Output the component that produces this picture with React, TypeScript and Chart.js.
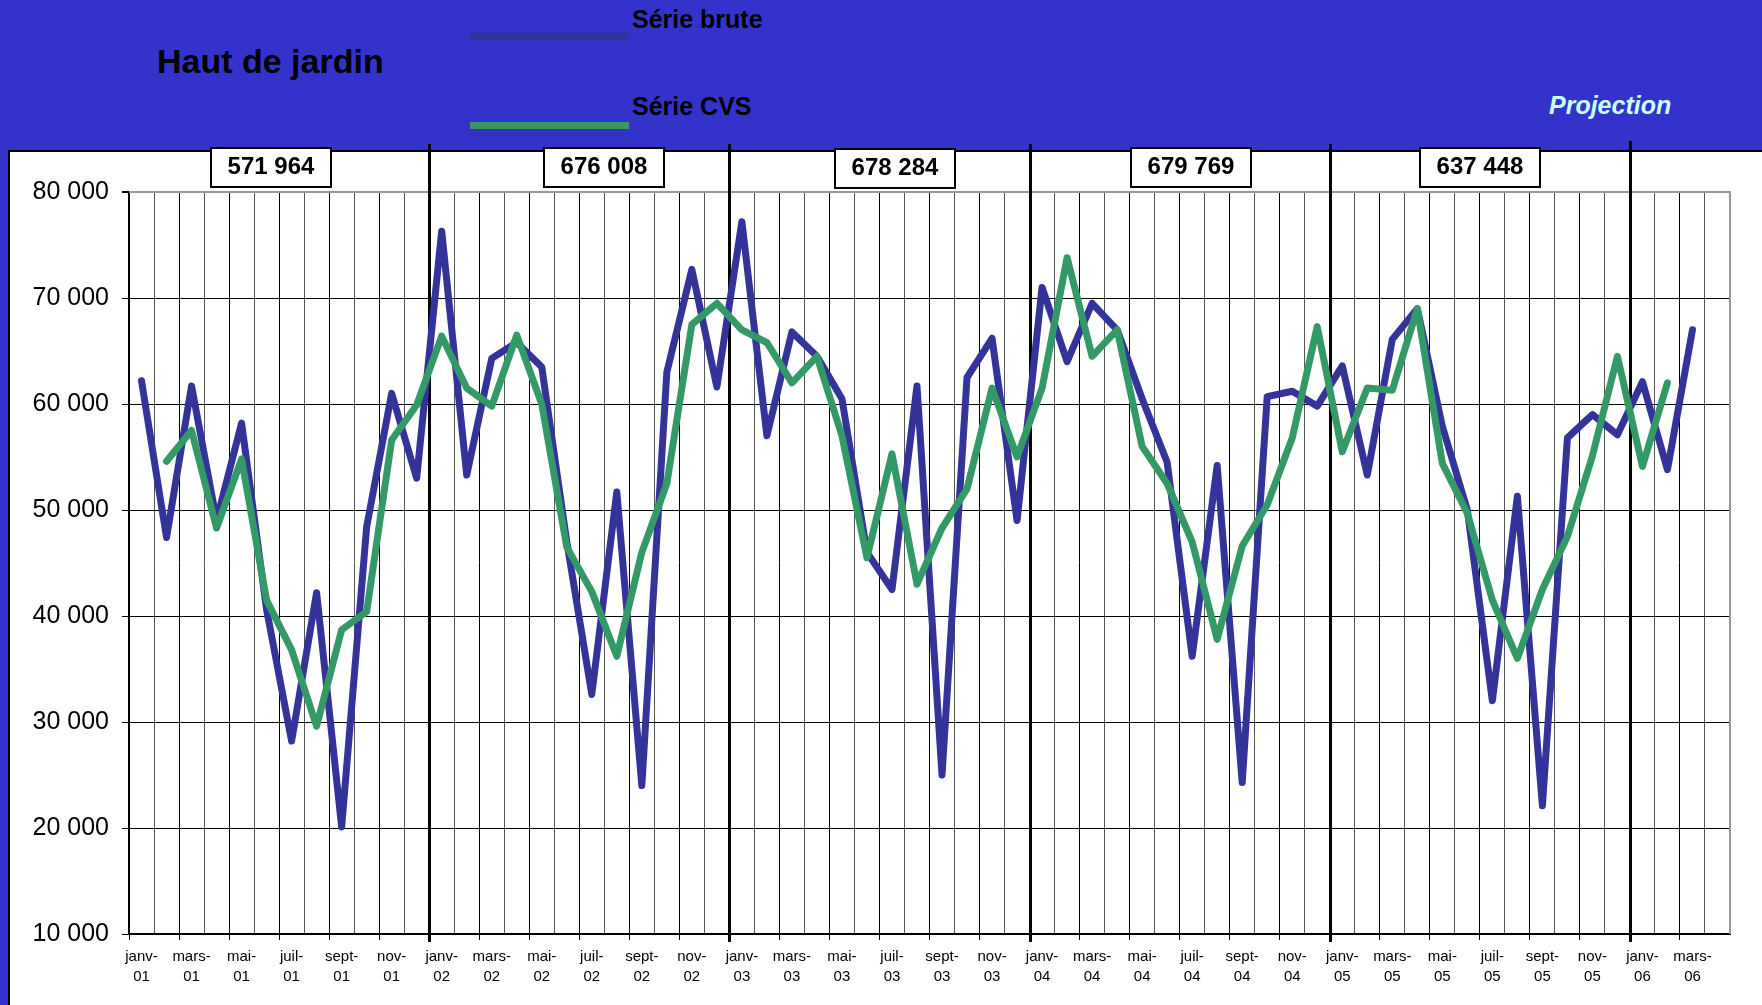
import React, { useEffect, useRef } from 'react';
import { Chart, registerables } from 'chart.js';

Chart.register(...registerables);

const FONT = '"Liberation Sans", Arial, Helvetica, sans-serif';

const monthNames = ['janv', 'févr', 'mars', 'avr', 'mai', 'juin', 'juil', 'août', 'sept', 'oct', 'nov', 'déc'];
const yearCodes = ['01', '02', '03', '04', '05', '06'];

// janv-01 .. avr-06 (64 categories, last one empty)
const categories: string[][] = [];
yearCodes.forEach((yy, yi) => {
  monthNames.forEach((m, mi) => {
    if (yi === 5 && mi > 3) return;
    categories.push([m + '-', yy]);
  });
});

const serieBrute: number[] = [
  62200, 47400, 61700, 49000, 58200, 40600, 28200, 42200, 20100, 48400, 61000, 53000,
  76300, 53300, 64300, 65800, 63500, 47000, 32600, 51700, 24000, 63000, 72700, 61600,
  77200, 57000, 66800, 64500, 60500, 46000, 42500, 61700, 25000, 62500, 66200, 49000,
  71000, 64000, 69500, 67000, 60500, 54500, 36200, 54200, 24300, 60700, 61200, 59800,
  63600, 53300, 66100, 69000, 57900, 50000, 32000, 51300, 22100, 56800, 59000, 57100,
  62100, 53800, 67000,
];

const serieCVS: (number | null)[] = [
  null, 54600, 57500, 48300, 54800, 41500, 36800, 29600, 38700, 40400, 56600, 59900,
  66400, 61500, 59800, 66500, 60000, 46500, 42300, 36200, 46000, 52500, 67500, 69500,
  67000, 65800, 62000, 64500, 57000, 45500, 55300, 43000, 48300, 52000, 61500, 55000,
  61500, 73800, 64500, 67000, 56000, 52500, 47000, 37800, 46600, 50500, 56800, 67300,
  55500, 61500, 61300, 69000, 54400, 49700, 41500, 36000, 42500, 47500, 55100, 64500,
  54100, 62000, null,
];

const yearTotals = ['571 964', '676 008', '678 284', '679 769', '637 448'];

const yMin = 10000;
const yMax = 80000;
const yStep = 10000;

const fmt = (n: number) => String(n).replace(/\B(?=(\d{3})+(?!\d))/g, ' ');

const decorPlugin = {
  id: 'decor',
  beforeDatasetsDraw(chart: any) {
    const { ctx, chartArea: a, scales } = chart;
    const x = scales.x;
    ctx.save();
    ctx.strokeStyle = '#999';
    ctx.lineWidth = 2;
    ctx.beginPath();
    ctx.moveTo(a.left, a.top);
    ctx.lineTo(a.right, a.top);
    ctx.lineTo(a.right, a.bottom);
    ctx.stroke();
    ctx.strokeStyle = '#000';
    ctx.lineWidth = 3;
    for (let k = 1; k <= yearTotals.length; k++) {
      const px = Math.round(x.getPixelForValue(12 * k - 0.5)) + 0.5;
      ctx.beginPath();
      ctx.moveTo(px, k === yearTotals.length ? 141 : 144);
      ctx.lineTo(px, a.bottom + 8);
      ctx.stroke();
    }
    ctx.restore();
  },
  afterDatasetsDraw(chart: any) {
    const { ctx, scales } = chart;
    const x = scales.x;
    const shifts = [-8, 25, 16, 11, 0];
    const tops = [148, 148, 149, 148, 148];
    ctx.save();
    yearTotals.forEach((txt, k) => {
      const cx = x.getPixelForValue(12 * k + 5.5) + shifts[k];
      const w = 120;
      const h = 39;
      const left = Math.round(cx - w / 2);
      const top = tops[k];
      ctx.fillStyle = '#fff';
      ctx.fillRect(left, top, w, h);
      ctx.strokeStyle = '#000';
      ctx.lineWidth = 2;
      ctx.strokeRect(left, top, w, h);
      ctx.fillStyle = '#000';
      ctx.font = `bold 24px ${FONT}`;
      ctx.textAlign = 'center';
      ctx.textBaseline = 'alphabetic';
      ctx.fillText(txt, left + w / 2, top + 26);
    });
    ctx.restore();
  },
};

function ChartCanvas() {
  const ref = useRef<HTMLCanvasElement | null>(null);
  useEffect(() => {
    if (!ref.current) return;
    Chart.defaults.font.family = FONT;
    const chart = new Chart(ref.current, {
      type: 'line',
      data: {
        labels: categories,
        datasets: [
          {
            label: 'Série CVS',
            data: serieCVS,
            borderColor: '#339966',
            backgroundColor: '#339966',
            borderWidth: 7,
            pointRadius: 0,
            tension: 0,
            borderJoinStyle: 'round',
            borderCapStyle: 'round',
            order: 0,
          },
          {
            label: 'Série brute',
            data: serieBrute,
            borderColor: '#333399',
            backgroundColor: '#333399',
            borderWidth: 7,
            pointRadius: 0,
            tension: 0,
            borderJoinStyle: 'round',
            borderCapStyle: 'round',
            order: 1,
          },
        ],
      },
      options: {
        responsive: false,
        animation: false,
        devicePixelRatio: 1,
        layout: { padding: { left: 29, top: 192, right: 32, bottom: 11 } },
        plugins: { legend: { display: false }, tooltip: { enabled: false } },
        scales: {
          x: {
            type: 'category',
            offset: true,
            afterFit: (s: any) => {
              s.height = 60;
            },
            grid: {
              offset: true,
              color: (c: any) =>
                c.index === undefined ? '#999' : c.index % 2 === 0 ? '#000' : '#555',
              lineWidth: (c: any) => (c.index === undefined ? 2 : 1),
              tickColor: (c: any) =>
                c.index !== undefined && c.index % 2 === 0 ? '#000' : 'rgba(0,0,0,0)',
              tickLength: 6,
            },
            border: { display: true, color: '#000', width: 2 },
            ticks: {
              autoSkip: false,
              maxRotation: 0,
              minRotation: 0,
              padding: 7,
              color: '#000',
              font: { size: 15, lineHeight: 20 / 15, family: FONT },
              callback: function (this: any, value: any, index: number) {
                return index % 2 === 0 ? this.getLabelForValue(value) : '';
              },
            },
          },
          y: {
            min: yMin,
            max: yMax,
            afterFit: (s: any) => {
              s.width = 100;
            },
            grid: {
              color: (c: any) => (c.tick && c.tick.value === yMax ? '#999' : '#000'),
              lineWidth: (c: any) => (c.tick && c.tick.value === yMax ? 2 : 1),
              tickColor: '#000',
              tickLength: 7,
            },
            border: { display: true, color: '#000', width: 2 },
            ticks: {
              stepSize: yStep,
              padding: 13,
              color: '#000',
              font: { size: 25, family: FONT },
              callback: (v: any) => fmt(Number(v)),
            },
          },
        },
      },
      plugins: [decorPlugin],
    } as any);
    return () => chart.destroy();
  }, []);
  return (
    <canvas
      ref={ref}
      width={1762}
      height={1005}
      style={{ position: 'absolute', left: 0, top: 0, width: 1762, height: 1005 }}
    />
  );
}

export default function App() {
  const txt = (extra: React.CSSProperties): React.CSSProperties => ({
    position: 'absolute',
    fontFamily: FONT,
    fontWeight: 'bold',
    whiteSpace: 'nowrap',
    margin: 0,
    ...extra,
  });
  return (
    <div
      style={{
        position: 'fixed',
        left: 0,
        top: 0,
        width: 1762,
        height: 1005,
        background: '#3333CC',
        overflow: 'hidden',
      }}
    >
      <div
        style={{
          position: 'absolute',
          left: 8,
          top: 150,
          width: 1754,
          height: 855,
          background: '#fff',
          borderLeft: '2px solid #000',
          borderTop: '2px solid #000',
          boxSizing: 'border-box',
        }}
      />
      <div style={txt({ left: 157, top: 44, fontSize: 34, lineHeight: '34px', color: '#000' })}>
        Haut de jardin
      </div>
      <div style={{ position: 'absolute', left: 470, top: 33, width: 159, height: 7, background: '#333399' }} />
      <div style={txt({ left: 632, top: 7, fontSize: 25, lineHeight: '25px', color: '#000' })}>
        Série brute
      </div>
      <div style={{ position: 'absolute', left: 470, top: 122, width: 159, height: 7, background: '#339966' }} />
      <div style={txt({ left: 632, top: 94, fontSize: 25, lineHeight: '25px', color: '#000' })}>
        Série CVS
      </div>
      <div
        style={txt({
          left: 1549,
          top: 93,
          fontSize: 25,
          lineHeight: '25px',
          fontStyle: 'italic',
          color: '#CCFFFF',
        })}
      >
        Projection
      </div>
      <ChartCanvas />
    </div>
  );
}
